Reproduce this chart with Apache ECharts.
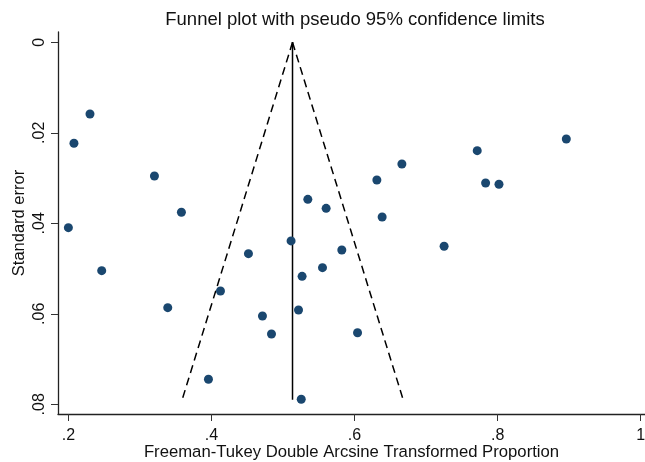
<!DOCTYPE html>
<html><head><meta charset="utf-8">
<script src="https://cdn.jsdelivr.net/npm/echarts@6/dist/echarts.min.js"></script>
<style>html,body{margin:0;padding:0;background:#fff}#c{width:645px;height:462px}</style>
</head><body><div id="c"></div>
<script>
// Study effect sizes (Freeman-Tukey transformed proportions) and standard errors
const effects = [0.2302,0.2078,0.3203,0.3580,0.2000,0.5347,0.5603,0.5113,0.6312,0.6662,0.6386,0.7715,0.7832,0.8019,0.8960,0.2466,0.4517,0.5552,0.5267,0.4126,0.3389,0.5217,0.4713,0.4839,0.3958,0.5255,0.5822,0.7252,0.6042];
const stdErrs = [0.01585,0.02232,0.02955,0.03757,0.04097,0.0347,0.0367,0.0439,0.03043,0.0269,0.0386,0.02395,0.0311,0.03138,0.02137,0.05047,0.04671,0.0498,0.05172,0.05496,0.05865,0.05916,0.06049,0.06446,0.07448,0.0789,0.0459,0.04508,0.06418];
// Pooled estimate line and pseudo 95% confidence limit lines (endpoints)
const pooledLine = [[0.5133,0],[0.5133,0.0790]];
const lowerLimit = [[0.5133,0],[0.3590,0.0790]];
const upperLimit = [[0.5133,0],[0.6680,0.0790]];
const xTicks = [0.2,0.4,0.6,0.8,1];
const yTicks = [0,0.02,0.04,0.06,0.08];

const fmt = v => { if (v === 0) return '0'; if (v === 1) return '1'; return String(+v.toFixed(4)).replace(/^0\./,'.'); };
const chart = echarts.init(document.getElementById('c'), null, {renderer:'canvas'});
const FONT = 'Liberation Sans, Arial, sans-serif';
chart.setOption({
  animation:false,
  backgroundColor:'#fff',
  title:{text:'Funnel plot with pseudo 95% confidence limits',left:350,textAlign:'center',top:5,
    textStyle:{fontFamily:FONT,fontSize:18.5,fontWeight:'normal',color:'#111'}},
  grid:{left:58,right:0,top:32,bottom:48,outerBoundsMode:'none',containLabel:false},
  xAxis:{type:'value',min:0.1855,max:1.006,
    name:'Freeman-Tukey Double Arcsine Transformed Proportion',nameLocation:'middle',nameGap:30,
    nameMoveOverlap:false,
    nameTextStyle:{fontFamily:FONT,fontSize:16.7,color:'#111'},
    axisLine:{show:true,onZero:false,lineStyle:{color:'#222',width:1.3}},
    axisTick:{show:true,length:7,customValues:xTicks,lineStyle:{color:'#333'}},
    axisLabel:{customValues:xTicks,formatter:fmt,fontFamily:FONT,fontSize:16,color:'#111',margin:14},
    splitLine:{show:false}},
  yAxis:{type:'value',inverse:true,min:-0.00228,max:0.08215,
    name:'Standard error',nameLocation:'middle',nameGap:30,
    nameMoveOverlap:false,
    nameTextStyle:{fontFamily:FONT,fontSize:16.5,color:'#111'},
    axisLine:{show:true,onZero:false,lineStyle:{color:'#222',width:1.3}},
    axisTick:{show:true,length:7,customValues:yTicks,lineStyle:{color:'#333'}},
    axisLabel:{customValues:yTicks,formatter:fmt,rotate:90,fontFamily:FONT,fontSize:16,color:'#111',margin:10},
    splitLine:{show:false}},
  series:[
    {type:'line',data:pooledLine,symbol:'none',lineStyle:{color:'#000',width:1.5},z:2},
    {type:'line',data:lowerLimit,symbol:'none',lineStyle:{color:'#000',width:1.5,type:[8,5]},z:2},
    {type:'line',data:upperLimit,symbol:'none',lineStyle:{color:'#000',width:1.5,type:[8,5]},z:2},
    {type:'scatter',data:effects.map((x,i)=>[x,stdErrs[i]]),symbolSize:9,
      itemStyle:{color:'#1a476f',opacity:1},z:3}
  ]
});
</script></body></html>
